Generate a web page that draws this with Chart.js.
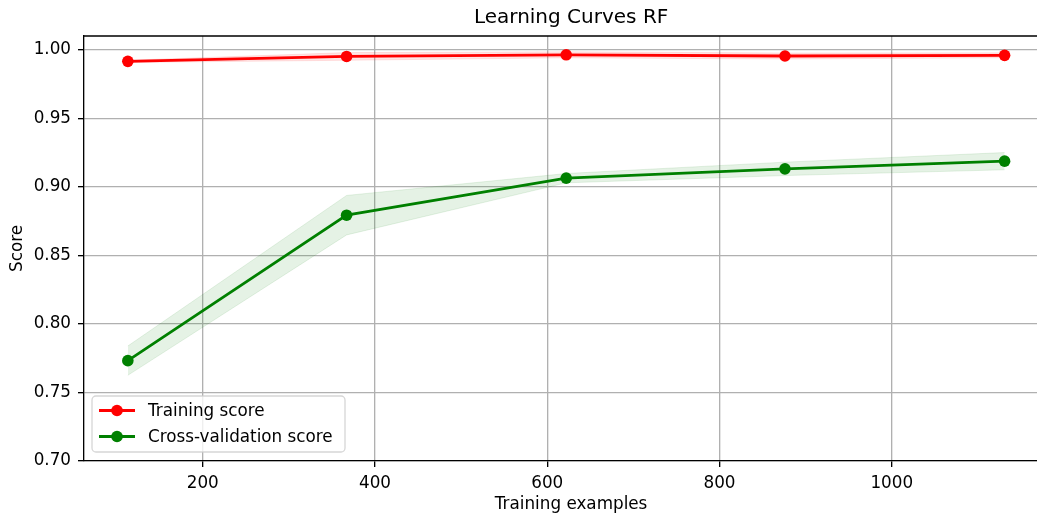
<!DOCTYPE html>
<html lang="en">
<head>
    <meta charset="UTF-8">
    <title>Learning Curves RF</title>
    <script src="https://cdn.jsdelivr.net/npm/chart.js"></script>
    <style>
        html, body { margin: 0; padding: 0; background: #fff; overflow: hidden; }
        #frame { width: 1037px; height: 516px; overflow: hidden; position: relative; }
        canvas { display: block; }
    </style>
</head>
<body>
    <div id="frame"><canvas id="curves" width="1064" height="516"></canvas></div>

    <script>
        // training set sizes and scores
        const trainSizes = [113, 367, 622, 876, 1131];
        const trainMean = [0.9915, 0.9951, 0.9963, 0.9954, 0.9959];
        const trainStd = [0.0008, 0.0028, 0.0022, 0.0022, 0.0018];
        const testMean = [0.7732, 0.8793, 0.9063, 0.9131, 0.9187];
        const testStd = [0.0107, 0.0144, 0.0034, 0.0049, 0.0063];

        const xTicks = [200, 400, 600, 800, 1000];
        const yTicks = [0.70, 0.75, 0.80, 0.85, 0.90, 0.95, 1.00];

        const FONT = 'DejaVu Sans';
        const TICK_PX = 16.8;
        const X_MIN = 62.1;
        const PX_PER_UNIT = 0.86125;   // x spacing of the source figure

        function pts(vals, shift, sign) {
            return trainSizes.map((x, i) => ({ x: x, y: vals[i] + (shift ? sign * shift[i] : 0) }));
        }

        // top and right spines, like matplotlib's box (the right one falls off the page)
        const boxPlugin = {
            id: 'box',
            afterDatasetsDraw(chart) {
                const a = chart.chartArea, ctx = chart.ctx;
                ctx.save();
                ctx.strokeStyle = '#000';
                ctx.lineWidth = 1.33;
                ctx.beginPath();
                ctx.moveTo(a.left, a.top);
                ctx.lineTo(a.right, a.top);
                ctx.lineTo(a.right, a.bottom);
                ctx.stroke();
                ctx.restore();
            }
        };

        // legend drawn in the lower-left corner of the plot
        const legendPlugin = {
            id: 'innerLegend',
            afterDraw(chart) {
                const a = chart.chartArea, ctx = chart.ctx;
                const items = chart.data.datasets.filter(d => d.inLegend);
                const left = a.left + 8, bottom = a.bottom - 9;
                const w = 253, h = 56, top = bottom - h;
                ctx.save();
                ctx.fillStyle = 'rgba(255,255,255,0.8)';
                ctx.strokeStyle = 'rgba(204,204,204,0.8)';
                ctx.lineWidth = 1.3;
                ctx.beginPath();
                if (ctx.roundRect) ctx.roundRect(left, top, w, h, 4);
                else ctx.rect(left, top, w, h);
                ctx.fill();
                ctx.stroke();
                ctx.font = TICK_PX + 'px "' + FONT + '"';
                ctx.textBaseline = 'middle';
                items.forEach((d, i) => {
                    const y = top + 14.5 + i * 26;
                    ctx.strokeStyle = d.borderColor;
                    ctx.lineWidth = 2.8;
                    ctx.beginPath();
                    ctx.moveTo(left + 7, y);
                    ctx.lineTo(left + 43, y);
                    ctx.stroke();
                    ctx.fillStyle = d.borderColor;
                    ctx.beginPath();
                    ctx.arc(left + 25, y, 5.8, 0, Math.PI * 2);
                    ctx.fill();
                    ctx.fillStyle = '#000';
                    ctx.fillText(d.label, left + 56, y + 1);
                });
                ctx.restore();
            }
        };

        const band = (color) => ({
            borderColor: color,
            borderWidth: 1,
            backgroundColor: color,
            pointRadius: 0,
            tension: 0
        });

        const line = (color) => ({
            borderColor: color,
            backgroundColor: color,
            borderWidth: 2.8,
            pointRadius: 5.8,
            pointHoverRadius: 5.8,
            pointBorderWidth: 0,
            pointBackgroundColor: color,
            fill: false,
            tension: 0,
            inLegend: true
        });

        Chart.defaults.font.family = FONT;
        Chart.defaults.color = '#000';

        const chart = new Chart(document.getElementById('curves'), {
            type: 'line',
            data: {
                datasets: [
                    Object.assign({ label: 'train hi', data: pts(trainMean, trainStd, 1), fill: false }, band('rgba(255,0,0,0.1)')),
                    Object.assign({ label: 'train lo', data: pts(trainMean, trainStd, -1), fill: '-1' }, band('rgba(255,0,0,0.1)')),
                    Object.assign({ label: 'test hi', data: pts(testMean, testStd, 1), fill: false }, band('rgba(0,128,0,0.1)')),
                    Object.assign({ label: 'test lo', data: pts(testMean, testStd, -1), fill: '-1' }, band('rgba(0,128,0,0.1)')),
                    Object.assign({ label: 'Training score', data: pts(trainMean) }, line('#ff0000')),
                    Object.assign({ label: 'Cross-validation score', data: pts(testMean) }, line('#008000'))
                ]
            },
            options: {
                responsive: false,
                animation: false,
                events: [],
                layout: { padding: { left: 0, right: 0, top: 0, bottom: 0 } },
                plugins: {
                    legend: { display: false },
                    tooltip: { enabled: false },
                    title: {
                        display: true,
                        fullSize: false,
                        text: 'Learning Curves RF',
                        color: '#000',
                        font: { size: 20, weight: 'normal' },
                        padding: { top: 6, bottom: 6 }
                    }
                },
                scales: {
                    x: {
                        type: 'linear',
                        min: X_MIN,
                        max: 1181.9,
                        afterBuildTicks: (s) => { s.ticks = xTicks.map(v => ({ value: v })); },
                        afterFit: (s) => { s.height = 55; },
                        grid: { color: '#b0b0b0', lineWidth: 1.33, tickColor: '#000', tickLength: 6, tickWidth: 1.33 },
                        border: { color: '#000', width: 1.33 },
                        ticks: { font: { size: TICK_PX }, padding: 7, maxRotation: 0, callback: (v) => String(v) },
                        title: { display: true, text: 'Training examples', font: { size: TICK_PX }, padding: { top: 0, bottom: 1 } }
                    },
                    y: {
                        min: 0.7,
                        max: 1.01,
                        afterBuildTicks: (s) => { s.ticks = yTicks.map(v => ({ value: v })); },
                        afterFit: (s) => { s.width = 84; },
                        grid: { color: '#b0b0b0', lineWidth: 1.33, tickColor: '#000', tickLength: 6, tickWidth: 1.33 },
                        border: { color: '#000', width: 1.33 },
                        ticks: { font: { size: TICK_PX }, padding: 7, callback: (v) => Number(v).toFixed(2) },
                        title: { display: true, text: 'Score', font: { size: TICK_PX }, padding: { top: 8, bottom: 0 } }
                    }
                }
            },
            plugins: [boxPlugin, legendPlugin]
        });

        // keep the source figure's x spacing whatever width the plot box ended up with
        const area = chart.chartArea;
        chart.options.scales.x.max = X_MIN + (area.right - area.left) / PX_PER_UNIT;
        chart.update('none');
    </script>
</body>
</html>
